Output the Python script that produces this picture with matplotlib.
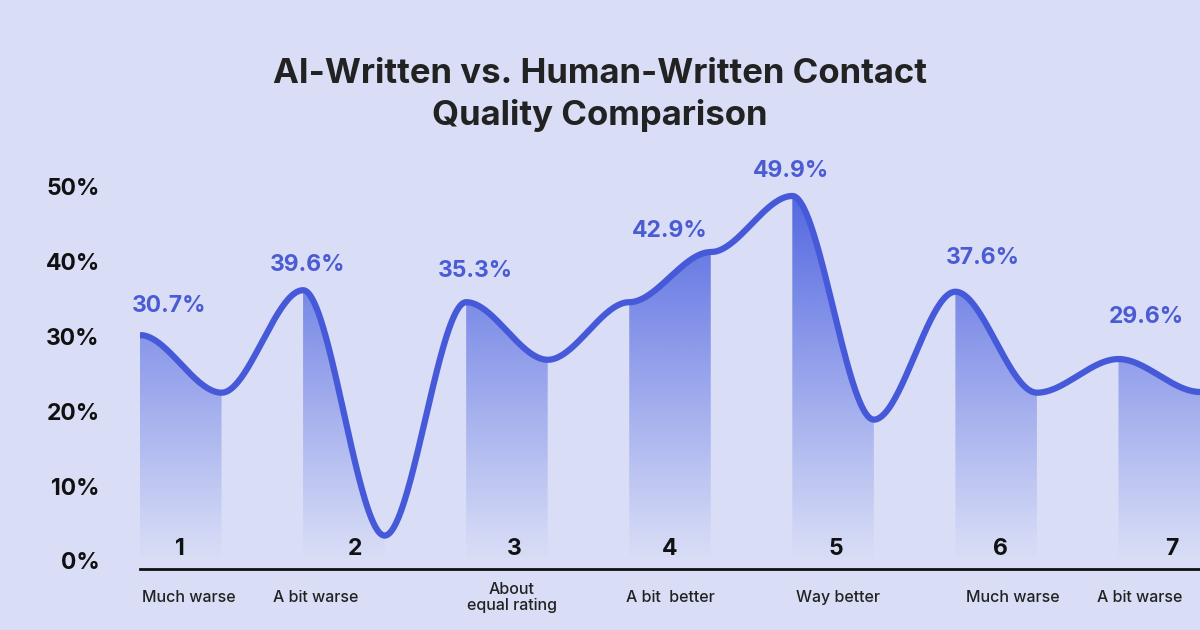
import numpy as np
import matplotlib.pyplot as plt
from matplotlib.patches import Polygon

plt.rcParams['font.family'] = ['Inter', 'DejaVu Sans']

# data
categories = ["Much warse", "A bit warse", "About\nequal rating", "A bit  better",
              "Way better", "Much warse", "A bit warse"]
numbers = ["1", "2", "3", "4", "5", "6", "7"]
value_labels = ["30.7%", "39.6%", "35.3%", "42.9%", "49.9%", "37.6%", "29.6%"]
# heights (%) of the decorative wave at its turning points
wave_pct = [30.2, 22.5, 36.2, 3.4, 34.6, 26.9, 34.6, 41.3, 48.8, 18.9, 36.0, 22.5, 27.0, 22.6]
yticks = [0, 10, 20, 30, 40, 50]

# label placement (in wave-knot units along x, % along y)
value_label_x = [0.36, 2.06, 4.11, 6.5, 7.98, 10.34, 12.34]
value_label_y = [34.1, 39.6, 38.8, 44.1, 52.1, 40.5, 32.6]
number_x = [0.49, 2.63, 4.59, 6.49, 8.53, 10.55, 12.65]
category_x = [0.6, 2.16, 4.56, 6.5, 8.56, 10.7, 12.26]

BG = '#d9def6'
LINE = '#465ad9'
LBL = '#4b5bd3'

fig = plt.figure(figsize=(12, 6.3), dpi=100, facecolor=BG)
ax = fig.add_axes([140 / 1200, 61 / 630, 1060 / 1200, 419.4 / 630])
ax.set_facecolor(BG)
ax.set_xlim(0, len(wave_pct) - 1)
ax.set_ylim(-1.07, 55)

# smooth wave: cubic hermite with flat tangents at every knot
xs, ys = [], []
for k in range(len(wave_pct) - 1):
    t = np.linspace(0, 1, 80)
    h = 3 * t ** 2 - 2 * t ** 3
    xs.append(k + t)
    ys.append(wave_pct[k] + (wave_pct[k + 1] - wave_pct[k]) * h)
xs = np.concatenate(xs)
ys = np.concatenate(ys)

# gradient strips under every other segment
grad_y = np.linspace(-1.07, 55, 300)
alpha = np.clip(0.92 * (grad_y / 50) ** 1.05, 0, 0.95)
alpha[grad_y < 0] = 0
lc = np.array([68, 90, 222]) / 255
grad = np.zeros((300, 1, 4))
grad[:, 0, :3] = lc
grad[:, 0, 3] = alpha
for i in range(len(categories)):
    k0, k1 = 2 * i, 2 * i + 1
    m = (xs >= k0) & (xs <= k1)
    px = np.concatenate([[k0], xs[m], [k1]])
    py = np.concatenate([[-1.07], ys[m], [-1.07]])
    poly = Polygon(np.column_stack([px, py]), closed=True, facecolor='none', edgecolor='none')
    ax.add_patch(poly)
    im = ax.imshow(grad, extent=[k0, k1, -1.07, 55], origin='lower', aspect='auto',
                   interpolation='bilinear', zorder=1)
    im.set_clip_path(poly)

ax.plot(xs, ys, color=LINE, lw=4.5, solid_capstyle='butt', zorder=3)

for x, y, s in zip(value_label_x, value_label_y, value_labels):
    ax.text(x, y, s, color=LBL, fontsize=16.5, fontweight='bold', ha='center', va='center')

for x, s in zip(number_x, numbers):
    ax.text(x, 1.6, s, color='#111111', fontsize=16.5, fontweight='bold', ha='center', va='center')

for x, s in zip(category_x, categories):
    ax.text(x, -4.9, s, color='#222222', fontsize=11.5, fontweight='medium', ha='center',
            va='center', linespacing=1.1, clip_on=False)

ax.set_yticks(yticks)
ax.set_yticklabels([f"{v}%" for v in yticks], fontsize=16.5, fontweight='bold', color='#111111')
ax.tick_params(axis='y', length=0, pad=29)
ax.set_xticks([])
for s in ['top', 'right', 'left']:
    ax.spines[s].set_visible(False)
ax.spines['bottom'].set_color('#111111')
ax.spines['bottom'].set_linewidth(2)

fig.text(0.5, 1 - 95 / 630, "AI-Written vs. Human-Written Contact\nQuality Comparison",
         ha='center', va='center', fontsize=25, fontweight='bold', color='#222222',
         linespacing=1.35)

fig.savefig('out.png', dpi=100, facecolor=BG)
